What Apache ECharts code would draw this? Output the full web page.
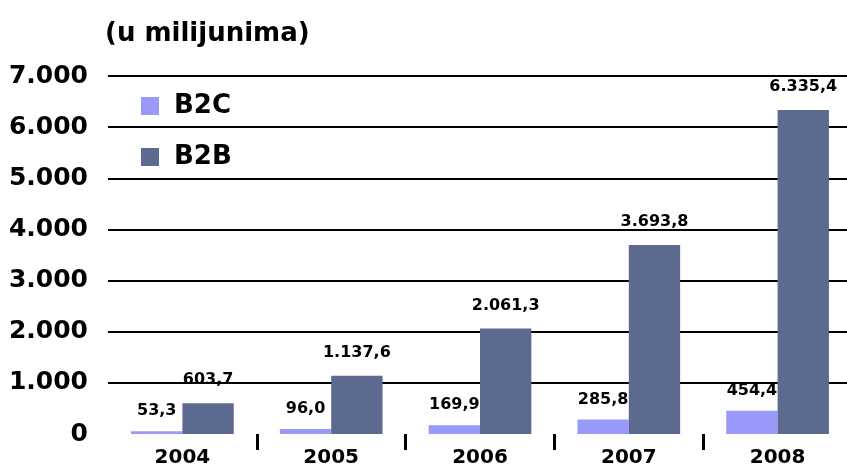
<!DOCTYPE html>
<html>
<head>
<meta charset="utf-8">
<script src="https://cdn.jsdelivr.net/npm/echarts@6/dist/echarts.min.js"></script>
<style>
html, body { margin: 0; padding: 0; background: #fff; overflow: hidden; }
/* a little wider than the window so the closing boundary tick falls off the edge */
#chart { width: 852px; height: 469px; }
</style>
</head>
<body>
<div id="chart"></div>
<script>
// godine i vrijednosti (u milijunima)
var years = ['2004', '2005', '2006', '2007', '2008'];
var b2c = [53.3, 96.0, 169.9, 285.8, 454.4];
var b2b = [603.7, 1137.6, 2061.3, 3693.8, 6335.4];
var seriesNames = ['B2C', 'B2B'];

function fmt(v, dec) {
    // 1234.5 -> 1.234,5
    var s = v.toFixed(dec);
    var parts = s.split('.');
    var intPart = parts[0].replace(/\B(?=(\d{3})+(?!\d))/g, '.');
    return dec > 0 ? intPart + ',' + parts[1] : intPart;
}

var myChart = echarts.init(document.getElementById('chart'));
var font = '"DejaVu Sans", sans-serif';

var option = {
    animation: false,
    title: {
        text: '(u milijunima)',
        left: 100,
        top: 16,
        textStyle: { fontFamily: font, fontSize: 26, fontWeight: 'bold', color: '#000' }
    },
    legend: {
        data: seriesNames,
        orient: 'vertical',
        left: 136,
        top: 88,
        itemWidth: 18,
        itemHeight: 18,
        itemGap: 25,
        icon: 'rect',
        textStyle: { fontFamily: font, fontSize: 26, fontWeight: 'bold', color: '#000', padding: [0, 0, 0, 10] }
    },
    grid: { left: 108, right: 0, top: 76, bottom: 35 },
    xAxis: {
        type: 'category',
        data: years,
        axisLine: { show: false },
        axisTick: {
            show: true,
            length: 16,
            lineStyle: { color: '#000', width: 3 },
            interval: function (index) { return index > 0 && index < years.length; }
        },
        axisLabel: {
            margin: 14,
            fontFamily: font, fontSize: 20, fontWeight: 'bold', color: '#000'
        }
    },
    yAxis: {
        type: 'value',
        min: 0,
        max: 7000,
        interval: 1000,
        axisLine: { show: false },
        axisTick: { show: false },
        splitLine: { show: true, showMinLine: false, lineStyle: { color: '#000', width: 2 } },
        axisLabel: {
            margin: 20,
            fontFamily: font, fontSize: 25, fontWeight: 'bold', color: '#000',
            formatter: function (v) { return fmt(v, 0); }
        }
    },
    series: [{
        name: seriesNames[0],
        type: 'bar',
        data: b2c,
        barGap: '0%',
        barCategoryGap: '31%',
        itemStyle: { color: '#9999fa' },
        label: {
            show: true,
            position: 'top',
            distance: 12,
            fontFamily: font, fontSize: 16, fontWeight: 'bold', color: '#000',
            formatter: function (p) { return fmt(p.value, 1); }
        }
    }, {
        name: seriesNames[1],
        type: 'bar',
        data: b2b,
        barGap: '0%',
        barCategoryGap: '31%',
        itemStyle: { color: '#5b6a8e' },
        label: {
            show: true,
            position: 'top',
            distance: 15,
            fontFamily: font, fontSize: 16, fontWeight: 'bold', color: '#000',
            formatter: function (p) { return fmt(p.value, 1); }
        }
    }]
};

myChart.setOption(option);
</script>
</body>
</html>
